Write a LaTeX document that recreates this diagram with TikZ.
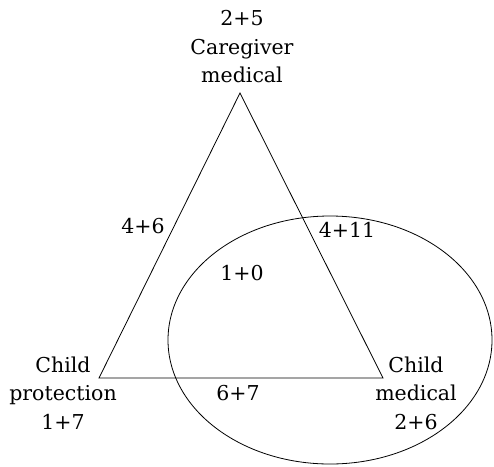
\documentclass[tikz,border=0pt]{standalone}
\usepackage{fontspec}
\setmainfont{DejaVu Serif}
\begin{document}
\begin{tikzpicture}[x=1pt,y=-1pt,
  lbl/.style={align=center,inner sep=0pt,font=\fontsize{20.5}{28.5}\selectfont},
  edge/.style={draw=black,line width=0.8pt,line join=miter}]
\useasboundingbox (0,0) rectangle (494,466);
\coordinate (A) at (240,93);
\coordinate (B) at (99,378);
\coordinate (C) at (383,378);
\draw[edge] (A) -- (B) -- (C) -- cycle;
\draw[edge] (330,340) ellipse [x radius=162, y radius=124];
\node[lbl] (top) at (242,47) {2+5\\Caregiver\\medical};
\node[lbl] (left) at (63,393) {Child\\protection\\1+7};
\node[lbl] (right) at (416,393) {Child\\medical\\2+6};
\node[lbl] (ab) at (143,226) {4+6};
\node[lbl] (ac) at (347,230) {4+11};
\node[lbl] (mid) at (242,273) {1+0};
\node[lbl] (bc) at (238,393) {6+7};
\end{tikzpicture}
\end{document}
